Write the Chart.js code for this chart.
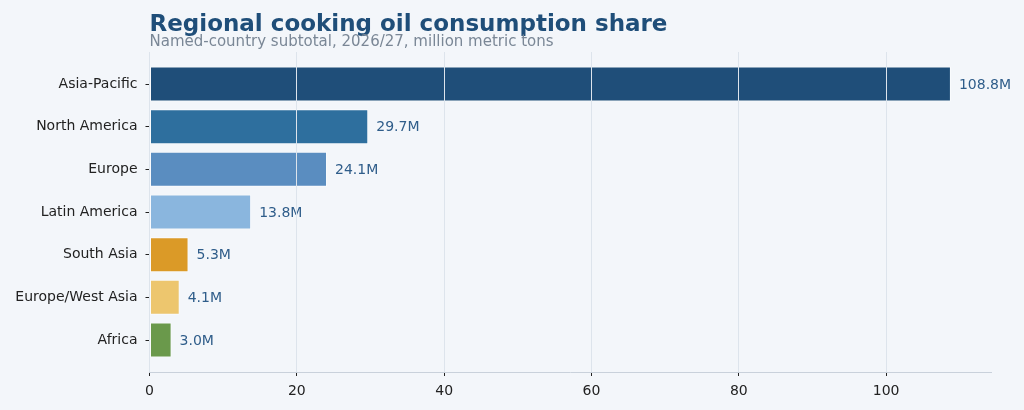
<!DOCTYPE html>
<html>
<head>
<meta charset="utf-8">
<script src="https://cdn.jsdelivr.net/npm/chart.js@4/dist/chart.umd.min.js"></script>
<style>
  html, body { margin: 0; padding: 0; background: #f3f6fa; }
  #wrap { width: 1024px; height: 410px; position: relative; }
</style>
</head>
<body>
<div id="wrap"><canvas id="grafico"></canvas></div>
<script>
const regioes = ['Asia-Pacific', 'North America', 'Europe', 'Latin America', 'South Asia', 'Europe/West Asia', 'Africa'];
const consumo = [108.8, 29.7, 24.1, 13.8, 5.3, 4.1, 3.0];
const cores = ['#1f4e79', '#2e6f9e', '#5a8dc0', '#8ab6de', '#db9a27', '#edc66e', '#6a994b'];
const ticksX = [0, 20, 40, 60, 80, 100];

const titulo = 'Regional cooking oil consumption share';
const subtitulo = 'Named-country subtotal, 2026/27, million metric tons';

// titulo, subtitulo e rotulos dos valores
const pluginTextos = {
  id: 'textos',
  afterDatasetsDraw(chart) {
    const ctx = chart.ctx;
    const area = chart.chartArea;
    ctx.save();
    ctx.textAlign = 'left';
    ctx.textBaseline = 'alphabetic';
    ctx.fillStyle = '#1f4e79';
    ctx.font = 'bold 23px "DejaVu Sans"';
    ctx.fillText(titulo, area.left, 31);
    ctx.fillStyle = '#7a8796';
    ctx.font = '15px "DejaVu Sans"';
    ctx.fillText(subtitulo, area.left, 46);

    const meta = chart.getDatasetMeta(0);
    ctx.fillStyle = '#2f5d8a';
    ctx.font = '14px "DejaVu Sans"';
    ctx.textBaseline = 'middle';
    meta.data.forEach((bar, i) => {
      ctx.fillText(consumo[i].toFixed(1) + 'M', bar.x + 8, bar.y + 1);
    });
    ctx.restore();
  }
};

const ctx = document.getElementById('grafico').getContext('2d');
new Chart(ctx, {
  type: 'bar',
  data: {
    datasets: [{
      data: regioes.map((r, i) => ({ x: consumo[i], y: i })),
      backgroundColor: cores,
      borderColor: 'rgba(255,255,255,0.6)',
      borderWidth: 1,
      borderSkipped: false,
      barPercentage: 0.82,
      categoryPercentage: 1
    }]
  },
  plugins: [pluginTextos],
  options: {
    indexAxis: 'y',
    responsive: true,
    maintainAspectRatio: false,
    animation: false,
    layout: { padding: { top: 52, right: 33, left: 0, bottom: 0 } },
    plugins: {
      legend: { display: false },
      tooltip: { enabled: false }
    },
    scales: {
      x: {
        type: 'linear',
        min: 0,
        max: 114.24,
        afterBuildTicks: scale => { scale.ticks = ticksX.map(v => ({ value: v })); },
        afterFit: scale => { scale.height = 38; },
        grid: {
          color: '#dde4ec',
          lineWidth: 1,
          z: 1,
          drawTicks: true,
          tickLength: 4,
          tickColor: '#222'
        },
        border: { display: true, color: '#c9d1db', width: 1, z: 1 },
        ticks: {
          color: '#222',
          padding: 7,
          font: { family: 'DejaVu Sans', size: 14 }
        }
      },
      y: {
        type: 'linear',
        min: -0.75,
        max: 6.75,
        reverse: true,
        offset: false,
        afterBuildTicks: scale => { scale.ticks = regioes.map((r, i) => ({ value: i })); },
        afterFit: scale => { scale.width = 149.5; },
        grid: {
          offset: false,
          drawOnChartArea: false,
          drawTicks: true,
          tickLength: 4,
          tickColor: '#222'
        },
        border: { display: false },
        ticks: {
          color: '#222',
          padding: 8,
          font: { family: 'DejaVu Sans', size: 14 },
          callback: v => regioes[v]
        }
      }
    }
  }
});
</script>
</body>
</html>
